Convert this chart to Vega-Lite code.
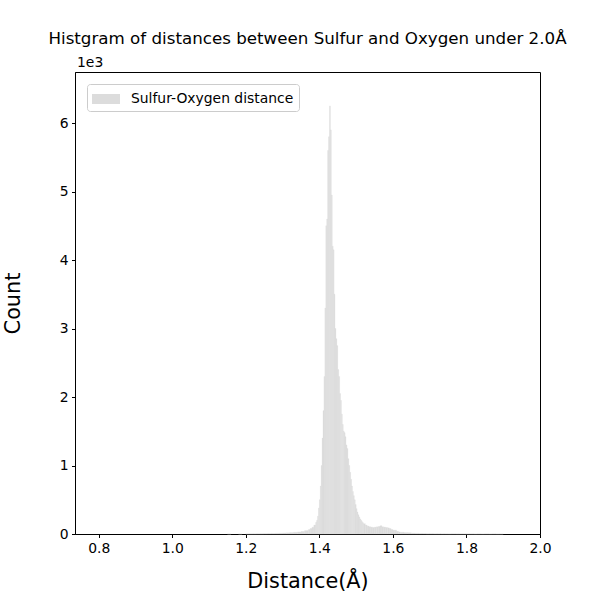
{
  "$schema": "https://vega.github.io/schema/vega-lite/v6.json",
  "width": 465,
  "height": 462,
  "autosize": {"type": "none"},
  "padding": {"left": 75, "top": 72, "right": 60, "bottom": 66},
  "background": "white",
  "title": {
    "text": "Histgram of distances between Sulfur and Oxygen under 2.0Å",
    "font": "DejaVu Sans",
    "fontSize": 16.7,
    "fontWeight": "normal",
    "color": "black",
    "anchor": "middle",
    "offset": 8
  },
  "config": {
    "view": {"stroke": "black", "strokeWidth": 1},
    "axis": {
      "grid": false,
      "labelFlush": false,
      "domainColor": "black",
      "tickColor": "black",
      "tickSize": 3.5,
      "labelFont": "DejaVu Sans",
      "labelFontSize": 13.9,
      "labelColor": "black",
      "labelPadding": 3.5,
      "titleFont": "DejaVu Sans",
      "titleFontSize": 20.8,
      "titleFontWeight": "normal",
      "titleColor": "black"
    }
  },
  "datasets": {
    "hist": [
      {"start": 1.15, "end": 1.16, "count": 1},
      {"start": 1.18, "end": 1.19, "count": 1},
      {"start": 1.20, "end": 1.21, "count": 2},
      {"start": 1.21, "end": 1.22, "count": 3},
      {"start": 1.22, "end": 1.23, "count": 3},
      {"start": 1.23, "end": 1.24, "count": 4},
      {"start": 1.24, "end": 1.25, "count": 5},
      {"start": 1.25, "end": 1.26, "count": 6},
      {"start": 1.26, "end": 1.27, "count": 7},
      {"start": 1.27, "end": 1.28, "count": 8},
      {"start": 1.28, "end": 1.29, "count": 10},
      {"start": 1.29, "end": 1.30, "count": 12},
      {"start": 1.30, "end": 1.31, "count": 14},
      {"start": 1.31, "end": 1.32, "count": 17},
      {"start": 1.32, "end": 1.33, "count": 20},
      {"start": 1.33, "end": 1.34, "count": 25},
      {"start": 1.34, "end": 1.35, "count": 30},
      {"start": 1.35, "end": 1.36, "count": 38},
      {"start": 1.36, "end": 1.37, "count": 50},
      {"start": 1.37, "end": 1.375, "count": 65},
      {"start": 1.375, "end": 1.38, "count": 80},
      {"start": 1.38, "end": 1.385, "count": 100},
      {"start": 1.385, "end": 1.39, "count": 130},
      {"start": 1.39, "end": 1.3925, "count": 170},
      {"start": 1.3925, "end": 1.395, "count": 200},
      {"start": 1.395, "end": 1.3975, "count": 260},
      {"start": 1.3975, "end": 1.40, "count": 380},
      {"start": 1.40, "end": 1.4025, "count": 500},
      {"start": 1.4025, "end": 1.405, "count": 700},
      {"start": 1.405, "end": 1.4075, "count": 1000},
      {"start": 1.4075, "end": 1.41, "count": 1400},
      {"start": 1.41, "end": 1.4125, "count": 1800},
      {"start": 1.4125, "end": 1.415, "count": 2300},
      {"start": 1.415, "end": 1.4175, "count": 3300},
      {"start": 1.4175, "end": 1.42, "count": 4500},
      {"start": 1.42, "end": 1.4225, "count": 4600},
      {"start": 1.4225, "end": 1.425, "count": 5600},
      {"start": 1.425, "end": 1.4275, "count": 5800},
      {"start": 1.4275, "end": 1.43, "count": 6250},
      {"start": 1.43, "end": 1.4325, "count": 5900},
      {"start": 1.4325, "end": 1.435, "count": 4950},
      {"start": 1.435, "end": 1.4375, "count": 4200},
      {"start": 1.4375, "end": 1.44, "count": 4150},
      {"start": 1.44, "end": 1.4425, "count": 3500},
      {"start": 1.4425, "end": 1.445, "count": 3000},
      {"start": 1.445, "end": 1.4475, "count": 2850},
      {"start": 1.4475, "end": 1.45, "count": 2750},
      {"start": 1.45, "end": 1.4525, "count": 2400},
      {"start": 1.4525, "end": 1.455, "count": 2300},
      {"start": 1.455, "end": 1.4575, "count": 2050},
      {"start": 1.4575, "end": 1.46, "count": 1950},
      {"start": 1.46, "end": 1.4625, "count": 1750},
      {"start": 1.4625, "end": 1.465, "count": 1600},
      {"start": 1.465, "end": 1.4675, "count": 1500},
      {"start": 1.4675, "end": 1.47, "count": 1480},
      {"start": 1.47, "end": 1.4725, "count": 1420},
      {"start": 1.4725, "end": 1.475, "count": 1300},
      {"start": 1.475, "end": 1.4775, "count": 1250},
      {"start": 1.4775, "end": 1.48, "count": 1100},
      {"start": 1.48, "end": 1.4825, "count": 1000},
      {"start": 1.4825, "end": 1.485, "count": 900},
      {"start": 1.485, "end": 1.4875, "count": 800},
      {"start": 1.4875, "end": 1.49, "count": 700},
      {"start": 1.49, "end": 1.4925, "count": 620},
      {"start": 1.4925, "end": 1.495, "count": 560},
      {"start": 1.495, "end": 1.4975, "count": 500},
      {"start": 1.4975, "end": 1.50, "count": 430},
      {"start": 1.50, "end": 1.5025, "count": 370},
      {"start": 1.5025, "end": 1.505, "count": 320},
      {"start": 1.505, "end": 1.5075, "count": 280},
      {"start": 1.5075, "end": 1.51, "count": 250},
      {"start": 1.51, "end": 1.5125, "count": 220},
      {"start": 1.5125, "end": 1.515, "count": 200},
      {"start": 1.515, "end": 1.5175, "count": 180},
      {"start": 1.5175, "end": 1.52, "count": 165},
      {"start": 1.52, "end": 1.525, "count": 150},
      {"start": 1.525, "end": 1.53, "count": 130},
      {"start": 1.53, "end": 1.535, "count": 115},
      {"start": 1.535, "end": 1.54, "count": 105},
      {"start": 1.54, "end": 1.545, "count": 100},
      {"start": 1.545, "end": 1.55, "count": 95},
      {"start": 1.55, "end": 1.555, "count": 100},
      {"start": 1.555, "end": 1.56, "count": 105},
      {"start": 1.56, "end": 1.565, "count": 110},
      {"start": 1.565, "end": 1.57, "count": 120},
      {"start": 1.57, "end": 1.575, "count": 105},
      {"start": 1.575, "end": 1.58, "count": 100},
      {"start": 1.58, "end": 1.585, "count": 95},
      {"start": 1.585, "end": 1.59, "count": 90},
      {"start": 1.59, "end": 1.595, "count": 80},
      {"start": 1.595, "end": 1.60, "count": 65},
      {"start": 1.60, "end": 1.605, "count": 55},
      {"start": 1.605, "end": 1.61, "count": 55},
      {"start": 1.61, "end": 1.615, "count": 40},
      {"start": 1.615, "end": 1.62, "count": 30},
      {"start": 1.62, "end": 1.63, "count": 25},
      {"start": 1.63, "end": 1.64, "count": 20},
      {"start": 1.64, "end": 1.65, "count": 18},
      {"start": 1.65, "end": 1.66, "count": 12},
      {"start": 1.66, "end": 1.67, "count": 10},
      {"start": 1.67, "end": 1.68, "count": 8},
      {"start": 1.68, "end": 1.69, "count": 7},
      {"start": 1.69, "end": 1.70, "count": 5},
      {"start": 1.70, "end": 1.71, "count": 5},
      {"start": 1.71, "end": 1.72, "count": 4},
      {"start": 1.72, "end": 1.73, "count": 4},
      {"start": 1.73, "end": 1.74, "count": 3},
      {"start": 1.74, "end": 1.75, "count": 3},
      {"start": 1.75, "end": 1.76, "count": 2},
      {"start": 1.76, "end": 1.77, "count": 3},
      {"start": 1.77, "end": 1.78, "count": 2},
      {"start": 1.78, "end": 1.79, "count": 2},
      {"start": 1.79, "end": 1.80, "count": 2},
      {"start": 1.80, "end": 1.81, "count": 2},
      {"start": 1.81, "end": 1.82, "count": 2},
      {"start": 1.82, "end": 1.83, "count": 1},
      {"start": 1.83, "end": 1.84, "count": 2},
      {"start": 1.84, "end": 1.85, "count": 1},
      {"start": 1.85, "end": 1.86, "count": 2},
      {"start": 1.86, "end": 1.87, "count": 1},
      {"start": 1.87, "end": 1.88, "count": 2},
      {"start": 1.88, "end": 1.89, "count": 1},
      {"start": 1.89, "end": 1.90, "count": 1}
    ],
    "offset": [{"label": "1e3"}]
  },
  "layer": [
    {
      "data": {"name": "hist"},
      "mark": {"type": "rect", "stroke": "#dcdcdc", "strokeWidth": 0.3},
      "encoding": {
        "x": {
          "field": "start",
          "type": "quantitative",
          "scale": {"domain": [0.7355, 2.0], "nice": false, "zero": false},
          "axis": {
            "values": [0.8, 1.0, 1.2, 1.4, 1.6, 1.8, 2.0],
            "format": ".1f",
            "title": "Distance(Å)",
            "titlePadding": 17
          }
        },
        "x2": {"field": "end"},
        "y": {
          "field": "count",
          "type": "quantitative",
          "scale": {"domain": [0, 6745], "nice": false},
          "axis": {
            "values": [0, 1000, 2000, 3000, 4000, 5000, 6000],
            "labelExpr": "datum.value / 1000",
            "title": "Count",
            "titlePadding": 36
          }
        },
        "y2": {"datum": 0},
        "color": {
          "datum": "Sulfur-Oxygen distance",
          "type": "nominal",
          "scale": {"range": ["#dcdcdc"]},
          "legend": {
            "title": null,
            "orient": "top-left",
            "offset": 12,
            "padding": 5,
            "fillColor": "white",
            "strokeColor": "#cccccc",
            "cornerRadius": 3,
            "symbolType": "M-1.4,-0.5h2.8v1h-2.8z",
            "symbolSize": 400,
            "symbolStrokeWidth": 0,
            "symbolOpacity": 1,
            "symbolOffset": 4,
            "labelOffset": 15,
            "labelLimit": 400,
            "labelFont": "DejaVu Sans",
            "labelFontSize": 13.9,
            "labelColor": "black"
          }
        }
      }
    },
    {
      "data": {"name": "offset"},
      "mark": {
        "type": "text",
        "align": "left",
        "baseline": "bottom",
        "dy": -2,
        "dx": 2,
        "font": "DejaVu Sans",
        "fontSize": 13.9,
        "color": "black"
      },
      "encoding": {
        "x": {"datum": 0.7355, "type": "quantitative"},
        "y": {"datum": 6745, "type": "quantitative"},
        "text": {"field": "label"}
      }
    }
  ]
}
